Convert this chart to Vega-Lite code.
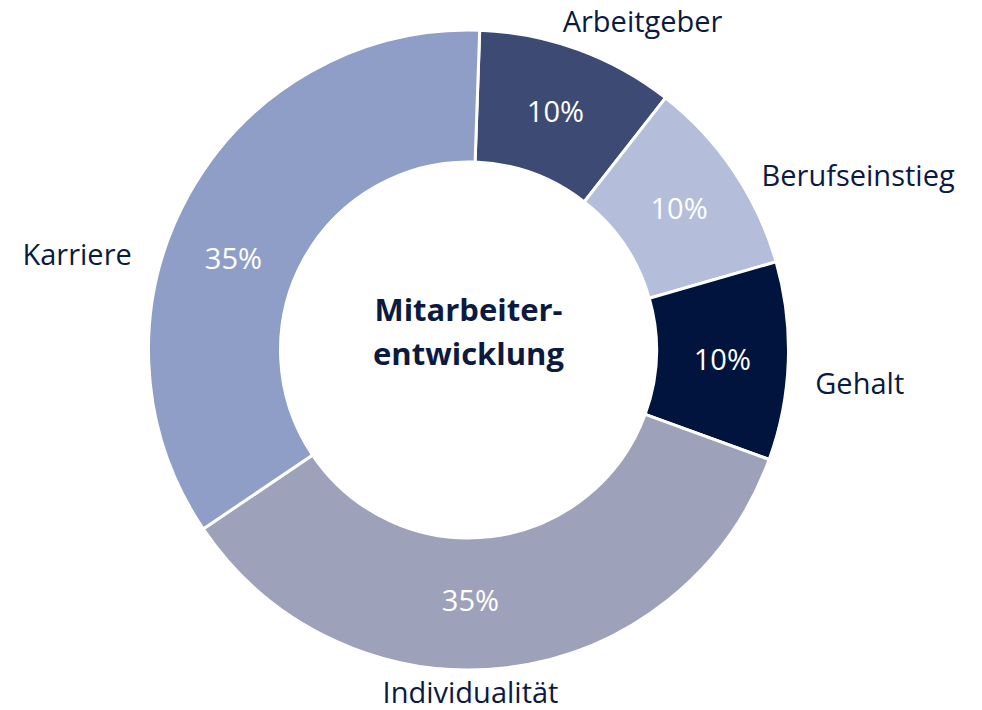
{
  "$schema": "https://vega.github.io/schema/vega-lite/v6.json",
  "autosize": {"type": "fit", "contains": "padding"},
  "width": 982,
  "height": 710,
  "padding": {"left": 0, "right": 45, "top": 3, "bottom": 8},
  "background": "white",
  "config": {"view": {"stroke": null}, "font": "Open Sans"},
  "data": {"values": [
    {"kategorie": "Arbeitgeber", "anteil": 0.10},
    {"kategorie": "Berufseinstieg", "anteil": 0.10},
    {"kategorie": "Gehalt", "anteil": 0.10},
    {"kategorie": "Individualität", "anteil": 0.35},
    {"kategorie": "Karriere", "anteil": 0.35}
  ]},
  "transform": [
    {"stack": "anteil", "groupby": [], "sort": [{"field": "kategorie", "order": "ascending"}], "as": ["a0", "a1"]},
    {"calculate": "(datum.a0 + datum.a1) / 2", "as": "mitte"}
  ],
  "encoding": {
    "theta": {"field": "mitte", "type": "quantitative", "stack": null, "scale": {"domain": [0, 1], "range": [0.035, 6.3182]}},
    "color": {"field": "kategorie", "type": "nominal", "legend": null,
      "scale": {"domain": ["Arbeitgeber", "Berufseinstieg", "Gehalt", "Individualität", "Karriere"],
                "range": ["#3c4a74", "#b4bedb", "#01143d", "#9ea1ba", "#8f9ec7"]}}
  },
  "layer": [
    {"mark": {"type": "arc", "outerRadius": 320, "innerRadius": 188, "stroke": "white", "strokeWidth": 3},
     "encoding": {"theta": {"field": "a0", "type": "quantitative", "stack": null}, "theta2": {"field": "a1"}}},
    {"transform": [{"filter": "datum.anteil < 0.2"}],
     "mark": {"type": "text", "radius": 254, "fontSize": 29, "baseline": "middle", "dy": 2},
     "encoding": {"text": {"field": "anteil", "type": "quantitative", "format": ".0%"}, "color": {"value": "white"}}},
    {"transform": [{"filter": "datum.kategorie == 'Individualität'"}],
     "mark": {"type": "text", "radius": 254, "fontSize": 29, "baseline": "middle", "dx": -29, "dy": 0},
     "encoding": {"text": {"field": "anteil", "type": "quantitative", "format": ".0%"}, "color": {"value": "white"}}},
    {"transform": [{"filter": "datum.kategorie == 'Karriere'"}],
     "mark": {"type": "text", "radius": 254, "fontSize": 29, "baseline": "middle", "dx": -13, "dy": 33},
     "encoding": {"text": {"field": "anteil", "type": "quantitative", "format": ".0%"}, "color": {"value": "white"}}},
    {"transform": [{"filter": "datum.kategorie == 'Arbeitgeber'"}],
     "mark": {"type": "text", "radius": 348, "fontSize": 29, "baseline": "middle", "align": "center", "dx": 55, "dy": 0},
     "encoding": {"text": {"field": "kategorie"}, "color": {"value": "#0c1a3f"}}},
    {"transform": [{"filter": "datum.kategorie == 'Berufseinstieg'"}],
     "mark": {"type": "text", "radius": 345, "fontSize": 29, "baseline": "middle", "align": "left", "dx": 7, "dy": 20},
     "encoding": {"text": {"field": "kategorie"}, "color": {"value": "#0c1a3f"}}},
    {"transform": [{"filter": "datum.kategorie == 'Gehalt'"}],
     "mark": {"type": "text", "radius": 345, "fontSize": 29, "baseline": "middle", "align": "left", "dx": 2, "dy": 23},
     "encoding": {"text": {"field": "kategorie"}, "color": {"value": "#0c1a3f"}}},
    {"transform": [{"filter": "datum.kategorie == 'Individualität'"}],
     "mark": {"type": "text", "radius": 345, "fontSize": 29, "baseline": "middle", "align": "center", "dx": -40, "dy": 2},
     "encoding": {"text": {"field": "kategorie"}, "color": {"value": "#0c1a3f"}}},
    {"transform": [{"filter": "datum.kategorie == 'Karriere'"}],
     "mark": {"type": "text", "radius": 345, "fontSize": 29, "baseline": "middle", "align": "right", "dx": -35, "dy": 73},
     "encoding": {"text": {"field": "kategorie"}, "color": {"value": "#0c1a3f"}}},
    {"data": {"values": [{"t": "Mitarbeiter-"}]},
     "mark": {"type": "text", "fontSize": 31, "fontWeight": "bold", "color": "#0c1a3f", "baseline": "middle", "align": "center", "dy": -38},
     "encoding": {"text": {"field": "t"}, "theta": null, "color": null}},
    {"data": {"values": [{"t": "entwicklung"}]},
     "mark": {"type": "text", "fontSize": 31, "fontWeight": "bold", "color": "#0c1a3f", "baseline": "middle", "align": "center", "dy": 6},
     "encoding": {"text": {"field": "t"}, "theta": null, "color": null}}
  ]
}
